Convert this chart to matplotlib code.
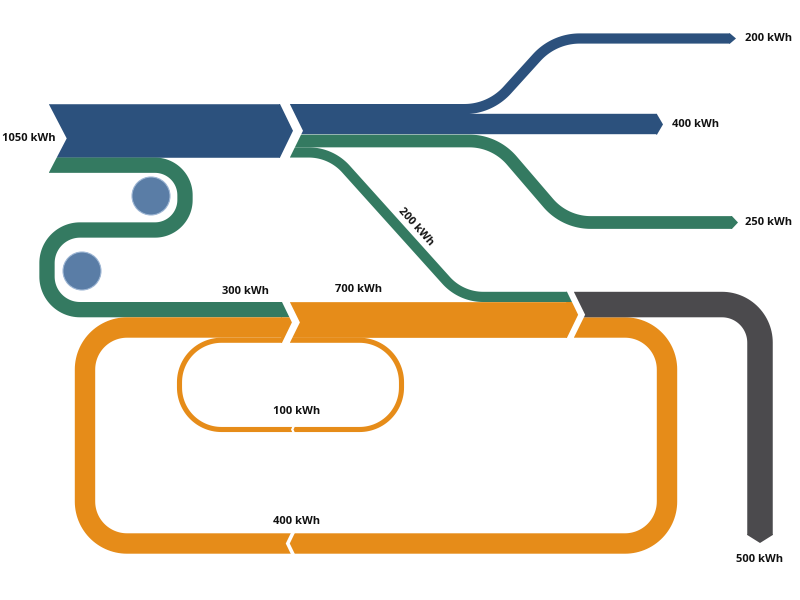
import numpy as np
import matplotlib
matplotlib.use("Agg")
import matplotlib.pyplot as plt
from matplotlib.patches import Polygon, Circle

# flow values in kWh
input_kwh = [1050, 300]        # blue supply, green recovered heat
blue_out_kwh = [200, 400]
green_out_kwh = [250, 200]     # 250 leaves, 200 goes on to losses
orange_kwh = [700, 400, 100]   # main band, big loop, small loop
loss_kwh = 500

BLUE = "#2c517d"
GREEN = "#347a61"
ORANGE = "#e68c19"
GREY = "#4b4a4d"
DOT = "#5a7da6"

DPI = 100
SCALE = 0.051      # px per kWh
SLOPE = 0.485      # chevron depth / half height


def w(v):
    return v * SCALE


def lw(v):
    return w(v) * 72 / DPI


def rounded(pts, r):
    pts = np.asarray(pts, float)
    rs = r if np.iterable(r) else [r] * (len(pts) - 2)
    out = [pts[0]]
    for i in range(1, len(pts) - 1):
        p0, p1, p2 = pts[i - 1], pts[i], pts[i + 1]
        u1 = (p1 - p0) / np.linalg.norm(p1 - p0)
        u2 = (p2 - p1) / np.linalg.norm(p2 - p1)
        cross = u1[0] * u2[1] - u1[1] * u2[0]
        theta = np.arccos(np.clip(u1 @ u2, -1, 1))
        ri = rs[i - 1]
        t = ri * np.tan(theta / 2)
        a = p1 - u1 * t
        n = np.array([-u1[1], u1[0]]) * np.sign(cross)
        c = a + n * ri
        a0 = np.arctan2(*(a - c)[::-1])
        angs = a0 + np.sign(cross) * np.linspace(0, theta, 30)
        out.extend(np.column_stack([c[0] + ri * np.cos(angs), c[1] + ri * np.sin(angs)]))
    out.append(pts[-1])
    return np.array(out)


def stroke(ax, pts, v, color, r=40, z=2):
    p = rounded(pts, r)
    ax.plot(p[:, 0], p[:, 1], color=color, lw=lw(v), solid_capstyle="butt",
            solid_joinstyle="round", zorder=z)


def junction(xc, gap, top, bot):
    return dict(xc=xc, xn=xc + gap, top=top, bot=bot, ym=(top + bot) / 2,
                h=(bot - top) / 2, d=SLOPE * (bot - top) / 2)


def notch(ax, j):
    ax.add_patch(Polygon([(j["xn"] - 0.4, j["top"] - 0.5), (j["xn"] + j["d"], j["ym"]),
                          (j["xn"] - 0.4, j["bot"] + 0.5)], closed=True,
                         fc="white", ec="none", zorder=3))


def tip(ax, j, a, b, color):
    def tx(y):
        return j["xc"] + j["d"] * (1 - abs(y - j["ym"]) / j["h"])
    ys = [a] + ([j["ym"]] if a < j["ym"] < b else []) + [b]
    poly = [(j["xc"] - 0.8, a)] + [(tx(y), y) for y in ys] + [(j["xc"] - 0.8, b)]
    ax.add_patch(Polygon(poly, closed=True, fc=color, ec="none", zorder=4))


def end_right(ax, x, yc, v, color, d=6):
    h = w(v) / 2
    ax.add_patch(Polygon([(x - 0.8, yc - h), (x, yc - h), (x + d, yc), (x, yc + h),
                          (x - 0.8, yc + h)], closed=True, fc=color, ec="none", zorder=2))


def end_down(ax, xc, y, v, color, d=8):
    h = w(v) / 2
    ax.add_patch(Polygon([(xc - h, y - 0.8), (xc - h, y), (xc, y + d), (xc + h, y),
                          (xc + h, y - 0.8)], closed=True, fc=color, ec="none", zorder=2))


def gap_left(ax, xr, yc, v, gap):
    # white "<" cut in a band flowing to the left
    h = w(v) / 2 + 0.6
    d = SLOPE * h
    ax.add_patch(Polygon([(xr - gap, yc - h), (xr, yc - h), (xr - d, yc), (xr, yc + h),
                          (xr - gap, yc + h), (xr - gap - d, yc)], closed=True,
                         fc="white", ec="none", zorder=3))


def main():
    fig = plt.figure(figsize=(8, 6), dpi=DPI)
    ax = fig.add_axes([0, 0, 1, 1])
    ax.set_xlim(0, 800)
    ax.set_ylim(600, 0)
    ax.axis("off")

    # lanes at the first split
    y0 = 104.0
    b_in, g_in = w(input_kwh[0]), w(input_kwh[1])
    lanes = np.cumsum([y0] + [w(v) for v in blue_out_kwh + green_out_kwh])
    yc_b200, yc_b400, yc_g250, yc_g200 = (lanes[:-1] + lanes[1:]) / 2

    # lanes at the orange band
    y2 = 302.0
    g300_c = y2 + g_in / 2
    o400_c = y2 + g_in + w(orange_kwh[1]) / 2
    o100_c = y2 + g_in + w(orange_kwh[1]) + w(orange_kwh[2]) / 2
    o700_c = y2 + w(orange_kwh[0]) / 2
    g200_c = y2 - w(green_out_kwh[1]) / 2
    grey_c = y2 - w(green_out_kwh[1]) + w(loss_kwh) / 2

    j1 = junction(280, 10, y0, y0 + b_in)
    j2 = junction(282, 8, y2, y2 + g_in + w(orange_kwh[1]) + w(orange_kwh[2]))
    j3 = junction(567, 7, y2 - w(green_out_kwh[1]), y2 + w(orange_kwh[0]))

    # supply
    stroke(ax, [(49, y0 + b_in / 2), (j1["xc"], y0 + b_in / 2)], input_kwh[0], BLUE)
    # recovered heat S-loop
    stroke(ax, [(49, y0 + b_in + g_in / 2), (185, y0 + b_in + g_in / 2), (185, 230),
                (47, 230), (47, g300_c), (j2["xc"], g300_c)],
           input_kwh[1], GREEN, r=[30, 30, 33, 33])

    # outputs after first split
    x1 = j1["xn"]
    stroke(ax, [(x1, yc_b200), (490, yc_b200), (554, 38.5), (730, 38.5)],
           blue_out_kwh[0], BLUE, r=58)
    end_right(ax, 730, 38.5, blue_out_kwh[0], BLUE)
    stroke(ax, [(x1, yc_b400), (657, yc_b400)], blue_out_kwh[1], BLUE)
    end_right(ax, 657, yc_b400, blue_out_kwh[1], BLUE)
    stroke(ax, [(x1, yc_g250), (495, yc_g250), (565, 222.5), (732, 222.5)],
           green_out_kwh[0], GREEN, r=56)
    end_right(ax, 732, 222.5, green_out_kwh[0], GREEN)
    stroke(ax, [(x1, yc_g200), (331, yc_g200), (461, g200_c), (j3["xc"], g200_c)],
           green_out_kwh[1], GREEN, r=50)

    # orange band, loops and losses
    stroke(ax, [(j2["xn"], o700_c), (j3["xc"], o700_c)], orange_kwh[0], ORANGE)
    stroke(ax, [(j3["xn"], o400_c), (667, o400_c), (667, 543.5), (85, 543.5),
                (85, o400_c), (j2["xc"], o400_c)], orange_kwh[1], ORANGE, r=42)
    stroke(ax, [(j2["xn"], o100_c), (401.5, o100_c), (401.5, 429.5), (179.5, 429.5),
                (179.5, o100_c), (j2["xc"], o100_c)], orange_kwh[2], ORANGE, r=42)
    stroke(ax, [(j3["xn"], grey_c), (760, grey_c), (760, 535)], loss_kwh, GREY, r=38)
    end_down(ax, 760, 535, loss_kwh, GREY)

    # cuts and chevrons
    ax.add_patch(Polygon([(48.5, y0 - 0.5), (49 + SLOPE * (b_in + g_in) / 2 + 1, y0 + (b_in + g_in) / 2),
                          (48.5, y0 + b_in + g_in + 0.5)], closed=True, fc="white", ec="none", zorder=3))
    for j in (j1, j2, j3):
        notch(ax, j)
    tip(ax, j1, j1["top"], j1["bot"], BLUE)
    tip(ax, j2, y2, y2 + g_in, GREEN)
    tip(ax, j2, y2 + g_in, j2["bot"], ORANGE)
    tip(ax, j3, j3["top"], y2, GREEN)
    tip(ax, j3, y2, j3["bot"], ORANGE)
    gap_left(ax, 295, 543.5, orange_kwh[1], 4)
    gap_left(ax, 295, 429.5, orange_kwh[2], 2.5)

    for cx, cy in [(151, 196), (82, 271)]:
        ax.add_patch(Circle((cx, cy), 19, fc=DOT, ec="#9db6d4", lw=0.8, zorder=5))

    font = dict(family=["Open Sans", "DejaVu Sans"], weight="bold", size=8, color="#111111", zorder=6)
    ax.text(2, y0 + (b_in + g_in) / 2, f"{input_kwh[0]} kWh", ha="left", va="center", **font)
    ax.text(745, 38.5, f"{blue_out_kwh[0]} kWh", ha="left", va="center", **font)
    ax.text(672, yc_b400, f"{blue_out_kwh[1]} kWh", ha="left", va="center", **font)
    ax.text(745, 222.5, f"{green_out_kwh[0]} kWh", ha="left", va="center", **font)
    ax.text(416, 227, f"{green_out_kwh[1]} kWh", ha="center", va="center", rotation=-48,
            rotation_mode="anchor", **font)
    ax.text(246, 291, f"{input_kwh[1]} kWh", ha="center", va="center", **font)
    ax.text(359, 290, f"{orange_kwh[0]} kWh", ha="center", va="center", **font)
    ax.text(297, 412, f"{orange_kwh[2]} kWh", ha="center", va="center", **font)
    ax.text(297, 521, f"{orange_kwh[1]} kWh", ha="center", va="center", **font)
    ax.text(760, 559, f"{loss_kwh} kWh", ha="center", va="center", **font)

    fig.savefig("out.png", dpi=DPI, facecolor="white")


if __name__ == "__main__":
    main()
